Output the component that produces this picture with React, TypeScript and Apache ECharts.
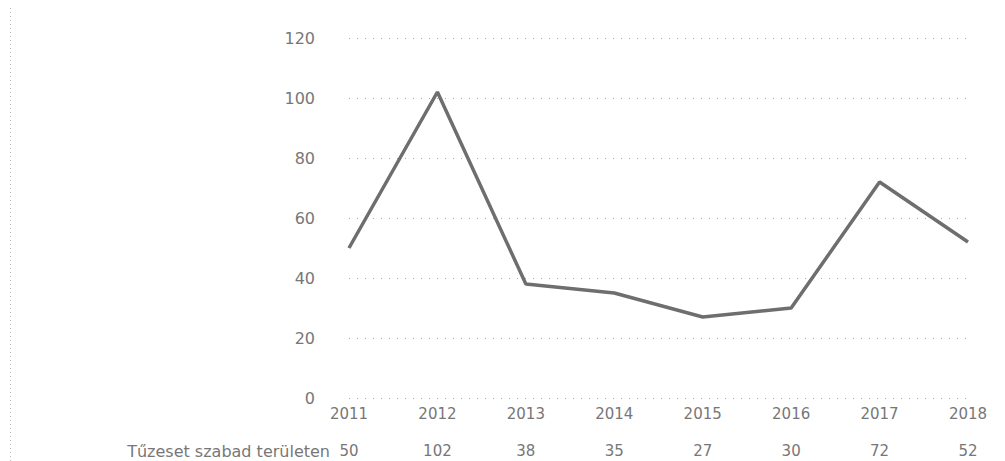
import React, { useEffect, useRef } from "react";
import * as echarts from "echarts";

const years = ["2011", "2012", "2013", "2014", "2015", "2016", "2017", "2018"];
const fires = [50, 102, 38, 35, 27, 30, 72, 52];
const seriesName = "Tűzeset szabad területen";
const yTicks = { min: 0, max: 120, interval: 20 };

export default function App() {
  const ref = useRef<HTMLDivElement>(null);
  useEffect(() => {
    if (!ref.current) return;
    const chart = echarts.init(ref.current, null, { renderer: "svg" });
    const textColor = "#777777";
    chart.setOption({
      animation: false,
      backgroundColor: "#ffffff",
      grid: { left: 349, right: 37, top: 38, bottom: 63, containLabel: false },
      xAxis: {
        type: "category",
        data: years,
        boundaryGap: false,
        axisLine: { show: false },
        axisTick: { show: false },
        axisLabel: {
          margin: 6,
          formatter: (v: string, i: number) => `{y|${v}}\n{v|${fires[i]}}`,
          rich: {
            y: { fontSize: 15, lineHeight: 20, color: textColor, fontFamily: "DejaVu Sans" },
            v: { fontSize: 15, lineHeight: 54, color: textColor, fontFamily: "DejaVu Sans" },
          },
        },
      },
      yAxis: {
        type: "value",
        min: yTicks.min,
        max: yTicks.max,
        interval: yTicks.interval,
        axisLine: { show: false },
        axisTick: { show: false },
        axisLabel: {
          margin: 34,
          fontSize: 16,
          color: textColor,
          fontFamily: "DejaVu Sans",
        },
        splitLine: {
          show: true,
          lineStyle: { type: [1, 7], color: "#a8a8a8", width: 1 },
        },
      },
      series: [
        {
          name: seriesName,
          type: "line",
          data: fires,
          showSymbol: false,
          symbol: "none",
          lineStyle: { color: "#6e6e6e", width: 3.5 },
          itemStyle: { color: "#6e6e6e" },
        },
      ],
      graphic: [
        {
          type: "text",
          x: 330,
          y: 451,
          style: {
            text: seriesName,
            fontSize: 16,
            fill: textColor,
            fontFamily: "DejaVu Sans",
            align: "right",
            verticalAlign: "middle",
          },
        },
        {
          type: "line",
          shape: { x1: 10.5, y1: 8, x2: 10.5, y2: 461 },
          style: { stroke: "#b8b8b8", lineWidth: 1, lineDash: [1, 3] },
        },
      ],
    });
    return () => chart.dispose();
  }, []);
  return (
    <div
      ref={ref}
      style={{ position: "fixed", left: 0, top: 0, width: 1005, height: 461 }}
    />
  );
}
